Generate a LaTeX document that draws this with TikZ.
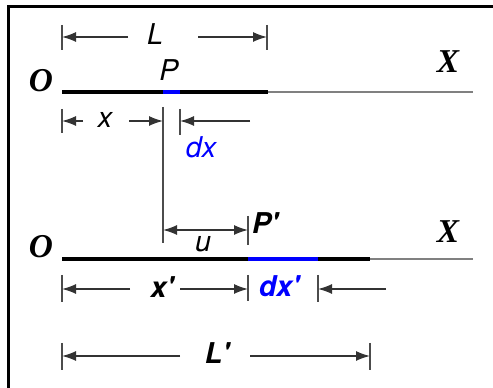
\documentclass[tikz,border=0pt]{standalone}
\usepackage{fontspec}
\setsansfont{TeX Gyre Heros}
\newfontfamily\ejefont{Liberation Serif}
\usetikzlibrary{arrows.meta}

\begin{document}
\begin{tikzpicture}[x=0.75pt,y=-0.75pt,line width=1.1pt,>={Latex[length=10.5pt,width=7.5pt]}]
  \tikzset{
    varilla/.style={line width=3.6pt},
    eje/.style={gray,line width=1.5pt},
    cota/.style={black!80,line width=1.1pt},
    tope/.style={black!70,line width=1.4pt},
    etq/.style={font=\fontsize{21.5}{23}\selectfont\sffamily\itshape,inner sep=0pt},
    etqb/.style={font=\fontsize{21.5}{23}\selectfont\sffamily\bfseries\itshape,inner sep=0pt},
    ejetq/.style={font=\fontsize{25}{26}\selectfont\ejefont\bfseries\itshape,inner sep=0pt}
  }
  \useasboundingbox (0,0) rectangle (493,388);
  % marco
  \coordinate (mA) at (8.5,388); \coordinate (mB) at (8.5,6.5); \coordinate (mC) at (493,6.5);
  \draw[line width=2.4pt] (mA) -- (mB) -- (mC);

  % varilla sin deformar
  \coordinate (O1) at (62,92);  \coordinate (P1) at (163,92); \coordinate (Q1) at (180,92);
  \coordinate (E1) at (268,92); \coordinate (F1) at (473,92);
  \draw[eje] (E1) -- (F1);
  \draw[varilla] (O1) -- (E1);
  \draw[varilla,blue] (P1) -- (Q1);
  \node[ejetq] (o1) at (41,81) {O};
  \node[ejetq] (x1) at (448,62) {X};
  \node[etq] (p1) at (169,70) {P};

  % varilla deformada
  \coordinate (O2) at (62,259);  \coordinate (P2) at (248,259); \coordinate (Q2) at (318,259);
  \coordinate (E2) at (370,259); \coordinate (F2) at (473,259);
  \draw[eje] (E2) -- (F2);
  \draw[varilla] (O2) -- (E2);
  \draw[varilla,blue] (P2) -- (Q2);
  \node[ejetq] (o2) at (41,247) {O};
  \node[ejetq] (x2) at (448,232) {X};
  \node[etqb] (p2) at (265,223) {P\textquotesingle};

  % topes de las cotas
  \foreach \x/\ya/\yb in {62/25/50, 267/25/50, 62/109/133, 180/109/135, 248/216/245,
                          62/275/302, 248/275/301, 318/275/302, 62/343/370, 370/343/370}
    \draw[tope] (\x,\ya) -- (\x,\yb);
  \coordinate (vA) at (163,107); \coordinate (vB) at (163,243);
  \draw[tope] (vA) -- (vB);

  % cota L
  \node[etq] (L) at (155,34) {L};
  \coordinate (La) at (62,37);  \coordinate (La0) at (128,37);
  \coordinate (Lb) at (267,37); \coordinate (Lb0) at (198,37);
  \draw[cota,->] (La0) -- (La);
  \draw[cota,->] (Lb0) -- (Lb);

  % cota x y dx
  \node[etq] (xl) at (105,120) {x};
  \coordinate (xa) at (62,121);  \coordinate (xa0) at (83,121);
  \coordinate (xb) at (163,121); \coordinate (xb0) at (129,121);
  \coordinate (dxa) at (180,121); \coordinate (dxa0) at (250,121);
  \draw[cota,->] (xa0) -- (xa);
  \draw[cota,->] (xb0) -- (xb);
  \draw[cota,->] (dxa0) -- (dxa);
  \node[etq,blue] (dx) at (201,147) {dx};

  % desplazamiento u
  \coordinate (ua) at (163,230); \coordinate (ub) at (248,230);
  \draw[cota,<->] (ua) -- (ub);
  \node[etq] (u) at (203,244) {u};

  % cota x' y dx'
  \node[etqb] (xp) at (162,287) {x\textquotesingle};
  \coordinate (xpa) at (62,289);  \coordinate (xpa0) at (130,289);
  \coordinate (xpb) at (248,289); \coordinate (xpb0) at (180,289);
  \coordinate (dxpa) at (318,289); \coordinate (dxpa0) at (386,289);
  \draw[cota,->] (xpa0) -- (xpa);
  \draw[cota,->] (xpb0) -- (xpb);
  \draw[cota,->] (dxpa0) -- (dxpa);
  \node[etqb,blue] (dxp) at (279,286) {dx\textquotesingle};

  % cota L'
  \node[etqb] (Lp) at (217,353) {L\textquotesingle};
  \coordinate (Lpa) at (62,356);  \coordinate (Lpa0) at (180,356);
  \coordinate (Lpb) at (370,356); \coordinate (Lpb0) at (250,356);
  \draw[cota,->] (Lpa0) -- (Lpa);
  \draw[cota,->] (Lpb0) -- (Lpb);
\end{tikzpicture}
\end{document}
